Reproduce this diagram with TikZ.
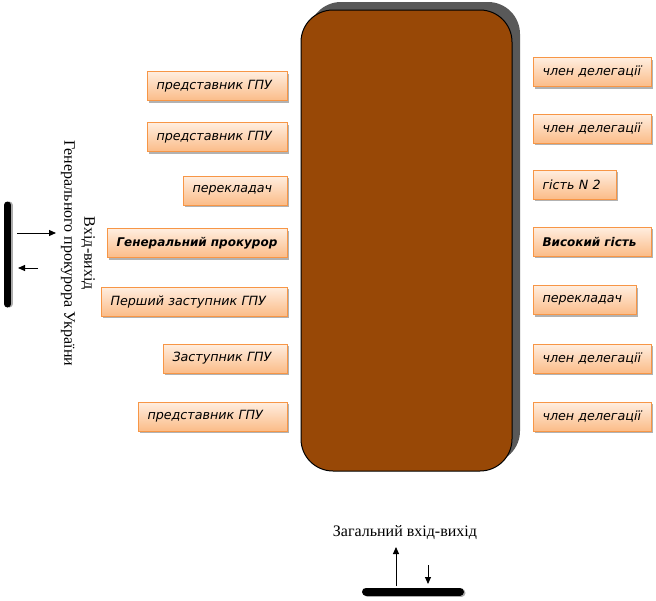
\documentclass[tikz,border=0pt]{standalone}
\usepackage{fontspec}
\setmainfont{Liberation Serif}
\newfontfamily\boxfont{DejaVu Sans}
\usetikzlibrary{shadows,arrows.meta}
\definecolor{brownfill}{RGB}{152,72,6}
\definecolor{shadowgray}{RGB}{89,89,89}
\definecolor{boxline}{RGB}{247,150,70}
\definecolor{boxtop}{RGB}{255,238,224}
\definecolor{boxbot}{RGB}{251,188,136}
\begin{document}
\begin{tikzpicture}[x=1pt,y=-1pt,
  lbl/.style={draw=boxline, line width=1pt, top color=boxtop, bottom color=boxbot,
    inner xsep=9pt, inner ysep=0pt, minimum height=29pt, text width=#1, align=left,
    font=\boxfont\itshape\fontsize{12.7}{15}\selectfont,
    drop shadow={shadow xshift=1.5pt, shadow yshift=-2pt, opacity=0.3, fill=black}},
  lblb/.style={lbl=#1, font=\boxfont\bfseries\itshape\fontsize{12}{15}\selectfont},
  arr/.style={line width=1pt, -{Triangle[length=7pt,width=6pt]}},
  bar/.style={line width=7pt, line cap=round},
  serif/.style={font=\fontsize{16}{20}\selectfont, align=center}]
\useasboundingbox (0,0) rectangle (656,600);
% main table
\node[draw=black, line width=1pt, fill=brownfill, rounded corners=32pt,
  minimum width=211pt, minimum height=461pt, inner sep=0pt,
  drop shadow={shadow xshift=8pt, shadow yshift=8pt, fill=shadowgray, opacity=1}]
  (table) at (406.5,240.5) {};
% left boxes
\node[lbl=122pt, anchor=east] (l1) at (288,86) {представник ГПУ};
\node[lbl=122pt, anchor=east] (l2) at (288,137) {представник ГПУ};
\node[lbl=86pt, anchor=east] (l3) at (288,190.5) {перекладач};
\node[lblb=162pt, anchor=east] (l4) at (288,243) {\mbox{Генеральний прокурор}};
\node[lbl=168pt, anchor=east] (l5) at (288,301.5) {Перший заступник ГПУ};
\node[lbl=106pt, anchor=east] (l6) at (288,358.5) {Заступник ГПУ};
\node[lbl=131pt, anchor=east] (l7) at (288,416.5) {представник ГПУ};
% right boxes
\node[lbl=100pt, anchor=west] (r1) at (533,72) {член делегації};
\node[lbl=100pt, anchor=west] (r2) at (533,128.5) {член делегації};
\node[lbl=65pt, anchor=west] (r3) at (533,184.5) {гість N 2};
\node[lblb=100pt, anchor=west] (r4) at (533,241.5) {\mbox{Високий гість}};
\node[lbl=85pt, anchor=west] (r5) at (533,300) {перекладач};
\node[lbl=100pt, anchor=west] (r6) at (533,358.5) {член делегації};
\node[lbl=100pt, anchor=west] (r7) at (533,416.5) {член делегації};
% left entrance
\node[serif, rotate=-90] (gate) at (78,253.5) {Вхід-вихід\\Генерального прокурора України};
\coordinate (lb1) at (7.5,205);
\coordinate (lb2) at (7.5,304);
\draw[bar, shadowgray!50] ([xshift=1.5pt]lb1) -- ([xshift=1.5pt]lb2);
\draw[bar] (lb1) -- (lb2);
\coordinate (a1s) at (17,233);
\coordinate (a1e) at (56,233);
\draw[arr] (a1s) -- (a1e);
\coordinate (a2s) at (38,268);
\coordinate (a2e) at (18,268);
\draw[arr] (a2s) -- (a2e);
% bottom entrance
\node[serif] (main) at (405,533) {Загальний вхід-вихід};
\coordinate (bb1) at (366,591.5);
\coordinate (bb2) at (460,591.5);
\draw[line width=8pt, line cap=round, shadowgray!50] ([xshift=1.5pt,yshift=-1pt]bb1) -- ([xshift=1.5pt,yshift=-1pt]bb2);
\draw[line width=8pt, line cap=round] (bb1) -- (bb2);
\coordinate (u1) at (396,586);
\coordinate (u2) at (396,547);
\draw[arr] (u1) -- (u2);
\coordinate (d1) at (428,565);
\coordinate (d2) at (428,584);
\draw[arr] (d1) -- (d2);
\end{tikzpicture}
\end{document}
